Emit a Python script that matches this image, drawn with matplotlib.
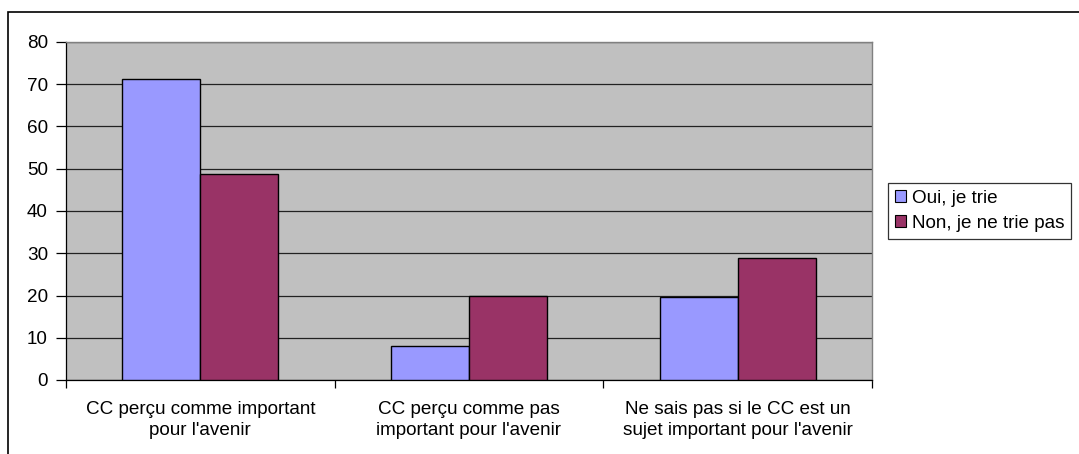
import matplotlib
matplotlib.use("Agg")
import matplotlib.pyplot as plt
import matplotlib.patches as mpatches
import numpy as np

plt.rcParams['font.family'] = ['Liberation Sans', 'DejaVu Sans']

categories = ["CC perçu comme important\npour l'avenir",
              "CC perçu comme pas\nimportant pour l'avenir",
              "Ne sais pas si le CC est un\nsujet important pour l'avenir"]
series_names = ["Oui, je trie", "Non, je ne trie pas"]
oui = [71.3, 8.0, 19.7]
non = [48.8, 20.0, 28.9]
yticks = [0, 10, 20, 30, 40, 50, 60, 70, 80]

colors = ["#9999FF", "#993366"]
FS = 13.6

W, H = 1079, 454
fig = plt.figure(figsize=(W / 100, H / 100), dpi=100)
ax = fig.add_axes([66 / W, 1 - 380 / H, (872 - 66) / W, (380 - 42) / H])
ax.set_facecolor("#C0C0C0")

x = np.arange(len(categories))
w = 0.29
ax.bar(x - w / 2, oui, w, color=colors[0], edgecolor="black", linewidth=1.0, zorder=3, label=series_names[0])
ax.bar(x + w / 2, non, w, color=colors[1], edgecolor="black", linewidth=1.0, zorder=3, label=series_names[1])

ax.set_xlim(-0.5, len(categories) - 0.5)
ax.set_ylim(0, 80)
ax.set_yticks(yticks)
ax.set_yticklabels([str(v) for v in yticks], fontsize=FS)
ax.yaxis.grid(True, color="#222222", linewidth=0.9, zorder=1)
ax.set_axisbelow(True)

ax.set_xticks(x)
ax.set_xticklabels(categories, fontsize=FS, linespacing=1.3)
ax.tick_params(axis='x', length=0, pad=15)
ax.set_xticks(np.arange(-0.5, len(categories)), minor=True)
ax.tick_params(axis='x', which='minor', length=6, width=0.9, color="black", direction='out')
ax.tick_params(axis='y', length=7, width=0.9, color="black", direction='out', pad=6)

for s in ['top', 'right']:
    ax.spines[s].set_color("#808080")
    ax.spines[s].set_linewidth(1.0)
for s in ['left', 'bottom']:
    ax.spines[s].set_color("black")
    ax.spines[s].set_linewidth(0.9)

handles = [mpatches.Patch(facecolor=colors[0], edgecolor="black", linewidth=0.8),
           mpatches.Patch(facecolor=colors[1], edgecolor="black", linewidth=0.8)]
leg = fig.legend(handles, series_names, loc='upper left',
                 bbox_to_anchor=(888 / W, 1 - 183 / H),
                 fontsize=FS, fancybox=False, frameon=True,
                 handlelength=0.6, handleheight=0.6, handletextpad=0.3,
                 borderpad=0.35, labelspacing=0.45, borderaxespad=0)
leg.get_frame().set_edgecolor("black")
leg.get_frame().set_linewidth(0.9)

border = mpatches.Rectangle((8 / W, -0.1), 1.2, 1 - 12 / H + 0.1,
                            transform=fig.transFigure, fill=False,
                            edgecolor="black", linewidth=1.2)
fig.patches.append(border)

fig.savefig("out.png", dpi=100)
